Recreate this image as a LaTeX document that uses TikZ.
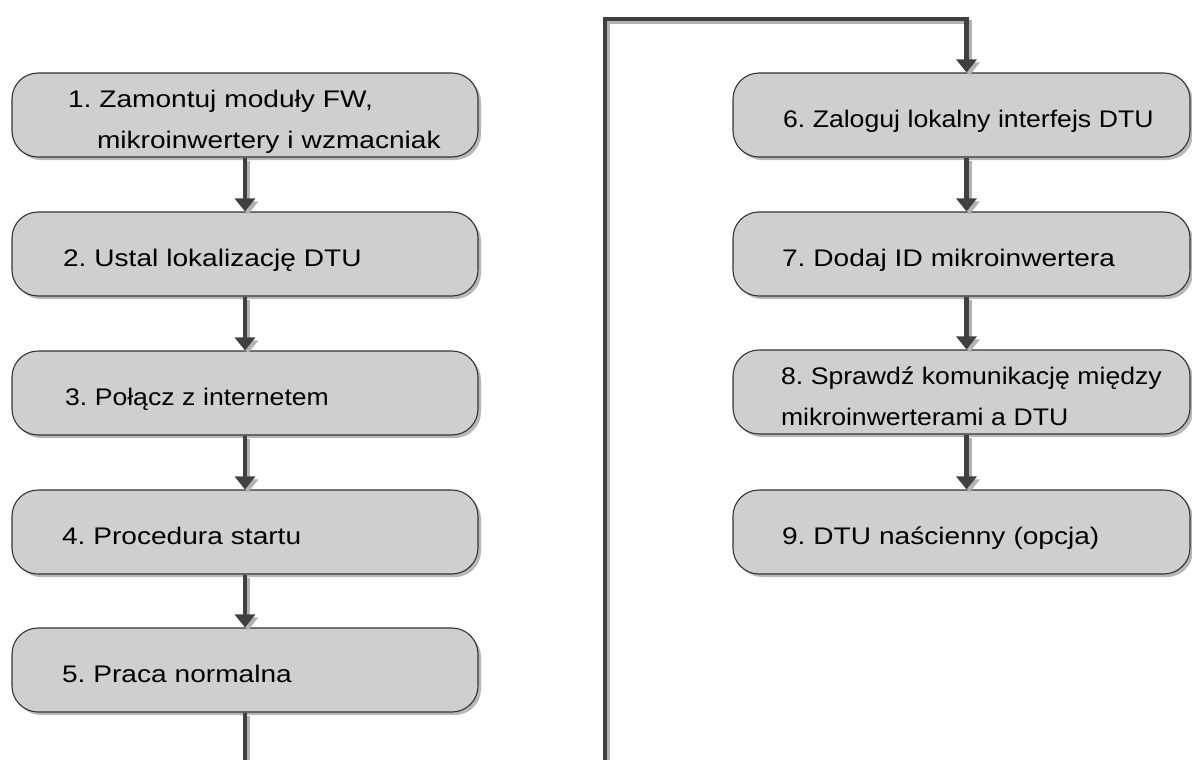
\documentclass[tikz,border=0pt]{standalone}
\usepackage{graphicx}
\usepackage{fontspec}
\setmainfont{Liberation Sans}[FakeStretch=1.17]
\frenchspacing
\usetikzlibrary{arrows.meta,shadows}

\newcommand{\squeezed}[1]{\scalebox{0.948}[1]{#1}}

\tikzset{
 stepbox/.style={draw=black!80, line width=1.1pt, fill=black!19, rounded corners=26pt,
   drop shadow={shadow xshift=3pt, shadow yshift=-3pt, fill=black!28, opacity=1},
   minimum height=84pt, inner ysep=0pt, align=left, font=\fontsize{24}{41}\selectfont},
 leftbox/.style={stepbox, text width=366pt, inner xsep=50pt},
 rightbox/.style={stepbox, text width=361pt, inner xsep=48pt},
 oneline/.style={text height=25pt, text depth=0pt},
 twoline/.style={text height=18pt, text depth=34pt},
 flow/.style={draw=black!75, line width=4.5pt,
   preaction={draw=black!30, line width=4pt, transform canvas={xshift=3pt, yshift=-3pt}}},
 arr/.style={flow, -{Triangle[width=20pt,length=13pt]}}
}

\begin{document}
\begin{tikzpicture}[x=1pt, y=-1pt]
 \useasboundingbox (0,0) rectangle (1192,760);

 %centres of the steps, left column
 \coordinate (P1) at (245,115);
 \coordinate (P2) at (245,254);
 \coordinate (P3) at (245,393);
 \coordinate (P4) at (245,532);
 \coordinate (P5) at (245,670);

 %centres of the steps, right column
 \coordinate (P6) at (961.5,115);
 \coordinate (P7) at (961.5,254);
 \coordinate (P8) at (961.5,392);
 \coordinate (P9) at (961.5,532);

 %where the line leaves the page and comes back
 \coordinate (out) at (245,764);
 \coordinate (back) at (605,764);
 \coordinate (top) at (605,19);

 %left column steps
 \node [leftbox, twoline] (s1) at (P1) {\mbox{\hspace{6pt}1. Zamontuj moduły FW,}\\\mbox{\hspace{35pt}mikroinwertery i wzmacniak}};
 \node [leftbox, oneline] (s2) at (P2) {\mbox{\hspace{1pt}2. Ustal lokalizację DTU}};
 \node [leftbox, oneline] (s3) at (P3) {\mbox{\hspace{3pt}\squeezed{3. Połącz z internetem}}};
 \node [leftbox, oneline] (s4) at (P4) {\mbox{4. Procedura startu}};
 \node [leftbox, oneline] (s5) at (P5) {\mbox{5. Praca normalna}};

 %right column steps
 \node [rightbox, oneline] (s6) at (P6) {\mbox{\hspace{2pt}\squeezed{6. Zaloguj lokalny interfejs DTU}}};
 \node [rightbox, oneline] (s7) at (P7) {\mbox{\hspace{1pt}7. Dodaj ID mikroinwertera}};
 \node [rightbox, twoline] (s8) at (P8) {\mbox{\squeezed{8. Sprawdź komunikację między}}\\\mbox{\squeezed{mikroinwerterami a DTU}}};
 \node [rightbox, oneline] (s9) at (P9) {\mbox{\hspace{1pt}9. DTU naścienny (opcja)}};

 %arrows, left column
 \draw [arr] (s1.south) -- (s2.north);
 \draw [arr] (s2.south) -- (s3.north);
 \draw [arr] (s3.south) -- (s4.north);
 \draw [arr] (s4.south) -- (s5.north);
 \draw [flow] (s5.south) -- (out);

 %line over to the right column
 \draw [arr] (back) -- (top) -| ([xshift=5pt]s6.north);

 %arrows, right column
 \draw [arr] ([xshift=5pt]s6.south) -- ([xshift=5pt]s7.north);
 \draw [arr] ([xshift=5pt]s7.south) -- ([xshift=5pt]s8.north);
 \draw [arr] ([xshift=5pt]s8.south) -- ([xshift=5pt]s9.north);
\end{tikzpicture}
\end{document}
